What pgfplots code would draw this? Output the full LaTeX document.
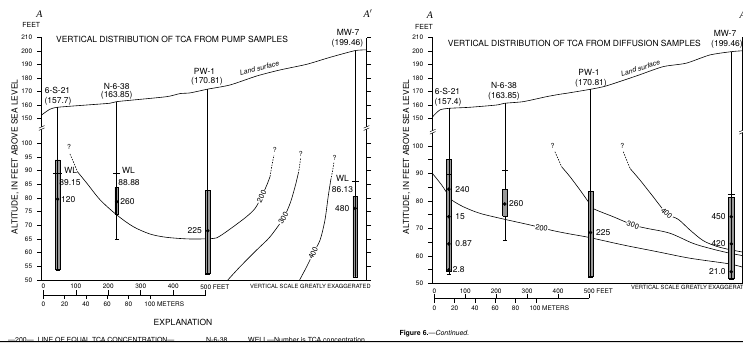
\documentclass[border=0pt]{standalone}
\usepackage{pgfplots}
\pgfplotsset{compat=1.18}
\usepackage{fontspec}
\setmainfont{TeX Gyre Heros}
\newfontfamily\seriffont{Liberation Serif}
\newcommand\fs[1]{\fontsize{#1}{#1}\selectfont}
\pgfplotsset{
  sect/.style={
    scale only axis, anchor=south west, clip=false,
    xmin=-5, xmax=995, ymin=50, ymax=210,
    axis line style={draw=none},
    xtick=\empty,
    ytick={50,55,60,65,70,75,80,85,90,95,100,150,160,170,180,190,200,210},
    ytick pos=both, yticklabel pos=left,
    tick align=outside, major tick length=4.5bp,
    tick style={black, line width=0.5pt},
    yticklabel style={font=\fs{6.5}, xshift=-1.5bp},
  },
  well/.style={black, line width=0.5pt},
  wbox/.style={fill=black!40, draw=black, line width=0.4pt},
  cont/.style={black, line width=0.6pt, smooth, tension=0.5},
  contd/.style={black, line width=0.6pt, dash pattern=on 1.5pt off 1.2pt},
  dot/.style={only marks, mark=*, mark size=1.6pt, black, mark options={fill=black}},
}
\tikzset{
  lab/.style={font=\fs{8.5}, inner sep=0.5pt},
  clab/.style={font=\fs{7.5}, fill=white, inner sep=0.6pt},
}
\begin{document}
\begin{tikzpicture}
\path[use as bounding box] (0,0) rectangle (743bp,343bp);
\fill[white] (0,0) rectangle (743bp,343bp);

% ================= LEFT PANEL =================
\begin{axis}[sect, at={(41.7bp,63bp)}, width=324.8bp, height=242.3bp,
  y coord trafo/.code={\pgfmathparse{ifthenelse(#1>125,161.7+(#1-150)*1.343,(#1-50)*2.734)}},
  yticklabels={50,55,60,65,70,75,80,85,90,95,100,150,160,170,180,190,200,210}]
\draw[line width=0.6pt] (rel axis cs:0,1) -- (rel axis cs:0,0) -- (rel axis cs:1,0) -- (rel axis cs:1,1);
% land surface
\addplot[black, line width=0.6pt, smooth, tension=0.4] coordinates {(-5,152.5) (20,156.7) (44,158.2) (123,159.7) (205,161.2) (226,162.4) (276,163.6) (380,166.1) (421,168.4) (452,168.9) (506,171.7) (575,174.8) (657,181.5) (729,186) (811,190.2) (883,195.4) (960,200.4) (995,200.9)};
% contours
\addplot[contd] coordinates {(82,96.1) (94,92.8) (105,89.6)};
\addplot[cont] coordinates {(105,89.6) (134,85.4) (175,79.3) (226,73.8) (277,69.5) (329,66.8) (380,65.6) (452,65.0) (523,65.2) (544,66.1) (585,69.5) (626,73.2) (652,76.2) (672,80.5) (688,84.7) (698,87.8)};
\addplot[contd] coordinates {(698,87.8) (703,91.4) (710,95.7)};
\addplot[cont] coordinates {(568,50) (606,54.9) (657,61.0) (698,65.8) (739,72.6) (760,78.1) (775,84.1) (785,89.0)};
\addplot[contd] coordinates {(785,89.0) (788,90.9) (792,94.5)};
\addplot[cont] coordinates {(789,50) (811,54.9) (831,59.8) (852,64.6) (867,71.9) (877,80.5) (885,86.6)};
\addplot[contd] coordinates {(885,86.6) (891,90.2) (895,93.3)};
\node[clab, rotate=63] at (axis cs:672,80.5) {200};
\node[clab, rotate=59] at (axis cs:739,72.6) {300};
\node[clab, rotate=63] at (axis cs:831,59.8) {400};
\node[font=\fs{7}] at (axis cs:79,98.6) {?};
\node[font=\fs{7}] at (axis cs:713,97.4) {?};
\node[font=\fs{7}] at (axis cs:793,96.0) {?};
\node[font=\fs{7}] at (axis cs:897,94.8) {?};
% well 6-S-21
\addplot[wbox] coordinates {(36,54) (52,54) (52,93.9) (36,93.9) (36,54)};
\addplot[well] coordinates {(44,158.2) (44,53.4)};
\addplot[well] coordinates {(38,53.4) (50,53.4)};
\addplot[well] coordinates {(31,89.15) (57,89.15)};
\addplot[dot] coordinates {(44,79.6)};
% well N-6-38
\addplot[well] coordinates {(226,162.4) (226,65)};
\addplot[well] coordinates {(220,65) (232,65)};
\addplot[well] coordinates {(215,88.88) (237,88.88)};
\addplot[wbox] coordinates {(220,74) (232,74) (232,84) (220,84) (220,74)};
\addplot[well] coordinates {(226,74) (226,84)};
\addplot[dot] coordinates {(226,78.6)};
% well PW-1
\addplot[wbox] coordinates {(498,52.5) (514,52.5) (514,82.9) (498,82.9) (498,52.5)};
\addplot[well] coordinates {(506,171.7) (506,52)};
\addplot[well] coordinates {(499,52) (513,52)};
\addplot[dot] coordinates {(506,68)};
% well MW-7
\addplot[wbox] coordinates {(953,51.2) (967,51.2) (967,80.7) (953,80.7) (953,51.2)};
\addplot[well] coordinates {(960,200.4) (960,50.9)};
\addplot[well] coordinates {(954,50.9) (966,50.9)};
\addplot[well] coordinates {(950,86.13) (973,86.13)};
\addplot[dot] coordinates {(960,76.2)};
% labels
\node[lab] at (axis cs:84,90.0) {WL};
\node[lab] at (axis cs:82,85.8) {89.15};
\node[lab, anchor=west] at (axis cs:53,79.6) {120};
\node[lab] at (axis cs:262,89.9) {WL};
\node[lab] at (axis cs:264,85.8) {88.88};
\node[lab, anchor=west] at (axis cs:235,78.6) {260};
\node[lab, anchor=east] at (axis cs:490,68) {225};
\node[lab, anchor=east] at (axis cs:944,76.2) {480};
\node[lab] at (axis cs:921,87.2) {WL};
\node[lab] at (axis cs:921,83.2) {86.13};
\end{axis}

% ================= RIGHT PANEL =================
\begin{axis}[sect, at={(432.7bp,59.5bp)}, width=309.4bp, height=245.8bp,
  y coord trafo/.code={\pgfmathparse{ifthenelse(#1>125,165.2+(#1-150)*1.343,(#1-50)*2.75)}},
  yticklabels={50,{},60,{},70,{},80,{},90,{},100,150,160,170,180,190,200,210}]
\draw[line width=0.6pt] (rel axis cs:0,1) -- (rel axis cs:0,0) -- (rel axis cs:1,0) -- (rel axis cs:1,1);
\addplot[black, line width=0.6pt, smooth, tension=0.4] coordinates {(-5,151.2) (18,156.2) (47,157.4) (115,158.2) (202,159.9) (228,161.2) (288,162.4) (363,166.1) (406,167.9) (427,168.6) (505,171.6) (556,174.1) (653,181.5) (739,188.4) (814,191) (890,197.1) (960,199.6) (998,200.3)};
% contours
\addplot[cont] coordinates {(-5,89.9) (24,85.8) (45,82.2) (56,80.4) (94,77.9) (148,75.5) (229,73.3) (309,71.3) (385,69.2) (439,68.0) (498,66.8) (611,64.0) (719,61.6) (826,59.2) (950,57.2) (998,55.9)};
\addplot[contd] coordinates {(390,97.9) (401,95.2) (412,92.4)};
\addplot[cont] coordinates {(412,92.4) (439,88.8) (471,84.0) (498,79.7) (513,77.3) (578,74.3) (642,71.3) (685,70.1) (761,68.3) (836,64.6) (890,62.8) (944,61.3) (998,60.1)};
\addplot[contd] coordinates {(611,97.9) (622,94.8) (633,91.8)};
\addplot[cont] coordinates {(633,91.8) (665,87.6) (703,82.2) (751,75.5) (789,73.3) (826,69.5) (869,65.6) (913,63.5) (956,62.3) (998,61.4)};
\node[clab, rotate=-10] at (axis cs:347,70.2) {200};
\node[clab, rotate=-19] at (axis cs:642,71.3) {300};
\node[clab, rotate=-42] at (axis cs:751,75.5) {400};
\node[font=\fs{7}] at (axis cs:382,100.0) {?};
\node[font=\fs{7}] at (axis cs:608,100.0) {?};
% 6-S-21
\addplot[wbox] coordinates {(38,54.3) (56,54.3) (56,95.1) (38,95.1) (38,54.3)};
\addplot[well] coordinates {(47,157.4) (47,53.5)};
\addplot[well] coordinates {(40,53.5) (54,53.5)};
\addplot[well] coordinates {(38,89.7) (56,89.7)};
\addplot[dot] coordinates {(47,84.3) (47,74.3) (47,64.4) (47,54.9)};
% N-6-38
\addplot[well] coordinates {(228,161.2) (228,65.6)};
\addplot[well] coordinates {(222,65.6) (234,65.6)};
\addplot[well] coordinates {(219,91.3) (238,91.3)};
\addplot[wbox] coordinates {(221,74.5) (236,74.5) (236,84.3) (221,84.3) (221,74.5)};
\addplot[dot] coordinates {(228,78.9)};
% PW-1
\addplot[wbox] coordinates {(497,52.5) (514,52.5) (514,83.4) (497,83.4) (497,52.5)};
\addplot[well] coordinates {(505,171.6) (505,52.2)};
\addplot[well] coordinates {(498,52.2) (512,52.2)};
\addplot[dot] coordinates {(505,68.5)};
% MW-7
\addplot[wbox] coordinates {(951,51.9) (970,51.9) (970,81.2) (951,81.2) (951,51.9)};
\addplot[well] coordinates {(960,199.6) (960,51.4)};
\addplot[well] coordinates {(952,51.4) (968,51.4)};
\addplot[well] coordinates {(949,82.4) (971,82.4)};
\addplot[dot] coordinates {(960,74.3) (960,64.4) (960,54.3)};
% labels
\node[lab, anchor=west] at (axis cs:66,84.3) {240};
\node[lab, anchor=west] at (axis cs:66,74.3) {15};
\node[lab, anchor=west] at (axis cs:66,64.4) {0.87};
\node[lab, anchor=west] at (axis cs:58,54.9) {2.8};
\node[lab, anchor=west] at (axis cs:240,78.9) {260};
\node[lab, anchor=west] at (axis cs:521,68.5) {225};
\node[lab, anchor=east] at (axis cs:944,74.3) {450};
\node[lab, anchor=east] at (axis cs:944,64.4) {420};
\node[lab, anchor=east] at (axis cs:944,54.3) {21.0};
\end{axis}

\begin{scope}[x=1bp,y=1bp]
% ---------- break marks ----------
\foreach \bx/\by in {41.7/215, 366.5/215, 432.7/211.3, 742.1/211.3}{
  \fill[white] (\bx-2.5,\by-2.2) -- (\bx+2.5,\by) -- (\bx+2.5,\by+2.2) -- (\bx-2.5,\by) -- cycle;
  \draw[line width=0.45pt] (\bx-2.8,\by-2.4) -- (\bx+2.8,\by+0.1);
  \draw[line width=0.45pt] (\bx-2.8,\by-0.1) -- (\bx+2.8,\by+2.4);
}

% ---------- left texts ----------
\node[font=\seriffont\itshape\fs{10}] at (39.3,329) {A};
\node[font=\seriffont\itshape\fs{10}] at (368,329.7) {A$'$};
\node[font=\fs{7}] at (31.3,318) {FEET};
\node[font=\fs{8.5}, anchor=west, inner sep=0pt] at (56,303.7) {VERTICAL DISTRIBUTION OF TCA FROM PUMP SAMPLES};
\node[font=\fs{8.4}, rotate=90] at (15,186) {ALTITUDE, IN FEET ABOVE SEA LEVEL};
\node[font=\fs{8.5}] at (57.5,253) {6-S-21};
\node[font=\fs{8.5}] at (58,241.3) {(157.7)};
\node[font=\fs{8.5}] at (116.7,257) {N-6-38};
\node[font=\fs{8.5}] at (116.7,248) {(163.85)};
\node[font=\fs{8.5}] at (204.5,272) {PW-1};
\node[font=\fs{8.5}] at (207,261.3) {(170.81)};
\node[font=\fs{8.5}] at (348,310.7) {MW-7};
\node[font=\fs{8.5}] at (347.5,299.7) {(199.46)};
\node[font=\itshape\fs{7}, rotate=15] at (259.5,275) {Land surface};

% ---------- right texts ----------
\node[font=\seriffont\itshape\fs{10}] at (430,328) {A};
\node[font=\seriffont\itshape\fs{10}] at (744,328) {A$'$};
\node[font=\fs{7}] at (424,316) {FEET};
\node[font=\fs{8.5}, anchor=west, inner sep=0pt] at (447.7,299.7) {VERTICAL DISTRIBUTION OF TCA FROM DIFFUSION SAMPLES};
\node[font=\fs{8.4}, rotate=90] at (406.7,186) {ALTITUDE, IN FEET ABOVE SEA LEVEL};
\node[font=\fs{8.5}] at (447.5,251.3) {6-S-21};
\node[font=\fs{8.5}] at (448,240.7) {(157.4)};
\node[font=\fs{8.5}] at (504,258) {N-6-38};
\node[font=\fs{8.5}] at (504,247) {(163.85)};
\node[font=\fs{8.5}] at (589,270.3) {PW-1};
\node[font=\fs{8.5}] at (591,259.7) {(170.81)};
\node[font=\fs{8.5}] at (725,309.7) {MW-7};
\node[font=\fs{8.5}] at (727,298.7) {(199.46)};
\node[font=\itshape\fs{7}, rotate=17] at (640.5,275) {Land surface};

% ---------- scale bars ----------
\draw[line width=0.5pt] (43.3,48) -- (205.7,48);
\foreach \k in {0,...,5}{\draw[line width=0.5pt] (43.3+32.48*\k,48) -- (43.3+32.48*\k,52.5);}
\foreach \k in {0,...,5}{\draw[line width=0.5pt] (43.3+21.31*\k,48) -- (43.3+21.31*\k,43.5);}
\foreach \k/\t in {0/0,1/100,2/200,3/300,4/400}{\node[font=\fs{6.5}] at (43.3+32.48*\k,56.3) {\t};}
\node[font=\fs{6.5}, anchor=west, inner sep=0pt] at (200.1,56.3) {500 FEET};
\foreach \k/\t in {0/0,1/20,2/40,3/60,4/80}{\node[font=\fs{6.5}] at (43.3+21.31*\k,39) {\t};}
\node[font=\fs{6.5}, anchor=west, inner sep=0pt] at (144.3,39) {100 METERS};
\node[font=\fs{5.8}, anchor=west, inner sep=0pt] at (250,56.3) {VERTICAL SCALE GREATLY EXAGGERATED};

\draw[line width=0.5pt] (434.3,44.7) -- (589,44.7);
\foreach \k in {0,...,5}{\draw[line width=0.5pt] (434.3+30.94*\k,44.7) -- (434.3+30.94*\k,49.2);}
\foreach \k in {0,...,5}{\draw[line width=0.5pt] (434.3+20.3*\k,44.7) -- (434.3+20.3*\k,40.2);}
\foreach \k/\t in {0/0,1/100,2/200,3/300,4/400}{\node[font=\fs{6.5}] at (434.3+30.94*\k,52) {\t};}
\node[font=\fs{6.5}, anchor=west, inner sep=0pt] at (583.6,52) {500 FEET};
\foreach \k/\t in {0/0,1/20,2/40,3/60,4/80}{\node[font=\fs{6.5}] at (434.3+20.3*\k,34.7) {\t};}
\node[font=\fs{6.5}, anchor=west, inner sep=0pt] at (529.4,34.7) {100 METERS};
\node[font=\fs{5.8}, anchor=west, inner sep=0pt] at (631,55.3) {VERTICAL SCALE GREATLY EXAGGERATED};

% ---------- explanation / caption ----------
\node[font=\fs{8.5}] at (183,20.7) {EXPLANATION};
\node[font=\fs{7}, anchor=base west, inner sep=0pt] at (8,0.8) {---200---\ \ LINE OF EQUAL TCA CONCENTRATION---};
\node[font=\fs{7}, anchor=base west, inner sep=0pt] at (206,0.8) {N-6-38};
\node[font=\fs{7}, anchor=base west, inner sep=0pt] at (248,0.8) {WELL---Number is TCA concentration.};
\node[font=\fs{7}, anchor=west, inner sep=0pt] at (399.3,9.5) {\textbf{Figure 6.}---\textit{Continued.}};
\fill[black!12] (0,0) rectangle (743,1.5);
\draw[line width=1bp] (0,1.9) -- (743,1.9);
\end{scope}
\end{tikzpicture}
\end{document}
